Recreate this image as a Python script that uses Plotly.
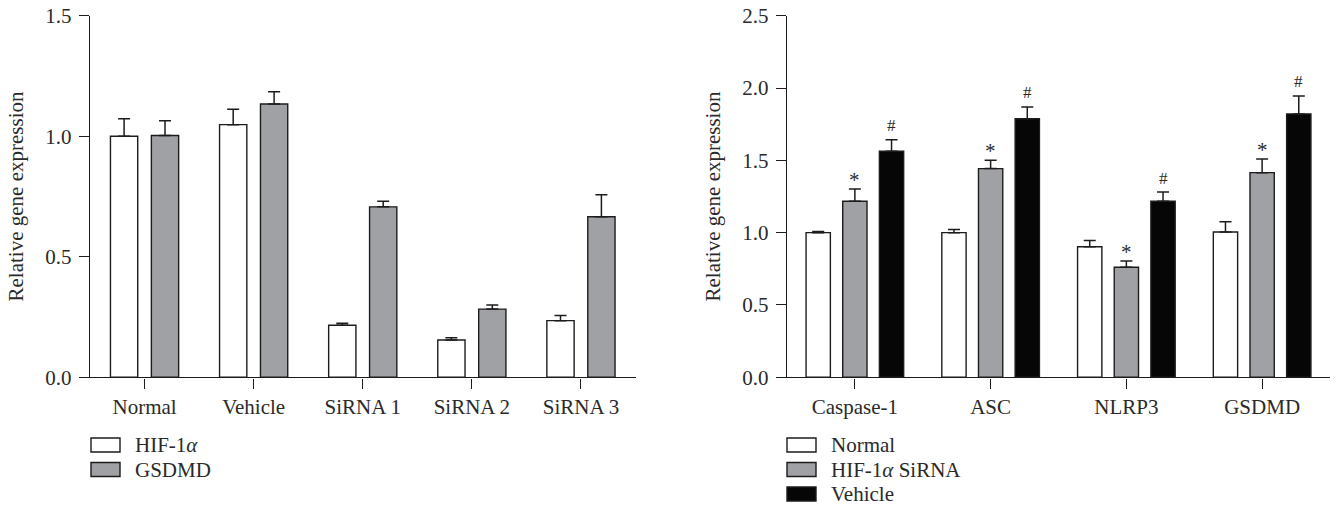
import plotly.graph_objects as go

W, H = 1342, 509

# ---------------- data ----------------
left_categories = ["Normal", "Vehicle", "SiRNA 1", "SiRNA 2", "SiRNA 3"]
left_series = ["HIF-1<i>α</i>", "GSDMD"]
left_hif = [1.000, 1.048, 0.216, 0.155, 0.235]
left_hif_err = [0.073, 0.064, 0.008, 0.009, 0.021]
left_gsdmd = [1.003, 1.134, 0.707, 0.283, 0.666]
left_gsdmd_err = [0.061, 0.051, 0.023, 0.017, 0.091]
left_yticks = [0.0, 0.5, 1.0, 1.5]

right_categories = ["Caspase-1", "ASC", "NLRP3", "GSDMD"]
right_series = ["Normal", "HIF-1<i>α</i> SiRNA", "Vehicle"]
right_normal = [1.000, 1.000, 0.903, 1.005]
right_normal_err = [0.008, 0.021, 0.042, 0.071]
right_sirna = [1.217, 1.443, 0.761, 1.415]
right_sirna_err = [0.085, 0.057, 0.043, 0.095]
right_vehicle = [1.563, 1.788, 1.217, 1.821]
right_vehicle_err = [0.080, 0.081, 0.064, 0.124]
sirna_marks = ["*", "*", "*", "*"]
vehicle_marks = ["#", "#", "#", "#"]
right_yticks = [0.0, 0.5, 1.0, 1.5, 2.0, 2.5]

# ---------------- style ----------------
FONT = "Liberation Serif"
INK = "#1c1c1c"
TXT = "#2a2a2a"
WHITE = "#ffffff"
GRAY = "#a0a1a5"
BLACK = "#060606"
FS = 21


def px(x, y):
    return x / W, 1 - y / H


fig = go.Figure()


def add_bars(xaxis, yaxis, cats, vals, errs, color, offset, width, name):
    fig.add_trace(go.Bar(
        x=cats, y=vals, name=name, xaxis=xaxis, yaxis=yaxis,
        offset=offset, width=width, showlegend=False,
        marker=dict(color=color, line=dict(color=INK, width=1.4)),
        error_y=dict(type="data", array=errs, arrayminus=[0] * len(errs),
                     symmetric=False, color=INK, thickness=1.5, width=6),
        hoverinfo="x+y+name",
    ))


# left chart
lw = 0.25
add_bars("x", "y", left_categories, left_hif, left_hif_err, WHITE, -0.3125, lw, left_series[0])
add_bars("x", "y", left_categories, left_gsdmd, left_gsdmd_err, GRAY, 0.0625, lw, left_series[1])

# right chart
rw = 0.179
rs = 0.27
add_bars("x2", "y2", right_categories, right_normal, right_normal_err, WHITE, -rs - rw / 2, rw, right_series[0])
add_bars("x2", "y2", right_categories, right_sirna, right_sirna_err, GRAY, -rw / 2, rw, right_series[1])
add_bars("x2", "y2", right_categories, right_vehicle, right_vehicle_err, BLACK, rs - rw / 2, rw, right_series[2])

annotations = []
for i, (v, e, m) in enumerate(zip(right_sirna, right_sirna_err, sirna_marks)):
    annotations.append(dict(x=i, y=v + e, xref="x2", yref="y2", text=m, showarrow=False,
                            yanchor="middle", yshift=9, font=dict(family=FONT, size=21, color=TXT)))
for i, (v, e, m) in enumerate(zip(right_vehicle, right_vehicle_err, vehicle_marks)):
    annotations.append(dict(x=i + rs, y=v + e, xref="x2", yref="y2", text=m, showarrow=False,
                            yanchor="middle", yshift=14, font=dict(family=FONT, size=17, color=TXT)))

# manual legends (wide swatches as in the reference)
shapes = []


def legend(x0, text_x, rows, names, colors):
    for (yc, name, col) in zip(rows, names, colors):
        a = px(x0, yc - 7)
        b = px(x0 + 29, yc + 7)
        shapes.append(dict(type="rect", xref="paper", yref="paper",
                           x0=a[0], x1=b[0], y0=b[1], y1=a[1],
                           fillcolor=col, line=dict(color=INK, width=1.4)))
        t = px(text_x, yc)
        annotations.append(dict(x=t[0], y=t[1], xref="paper", yref="paper", text=name,
                                showarrow=False, xanchor="left", yanchor="middle",
                                font=dict(family=FONT, size=FS, color=TXT)))


legend(91, 133, [445, 469.5], left_series, [WHITE, GRAY])
legend(787, 829, [445, 469.5, 494], right_series, [WHITE, GRAY, BLACK])

ydom = [1 - 377.3 / H, 1 - 15.7 / H]
axis_common = dict(showline=True, linecolor=INK, linewidth=1.4, ticks="outside",
                   ticklen=10, tickwidth=1.4, tickcolor=INK, showgrid=False, zeroline=False,
                   automargin=False,
                   tickfont=dict(family=FONT, size=FS, color=TXT))

fig.update_layout(
    template="none",
    width=W, height=H, margin=dict(l=0, r=0, t=0, b=0, pad=0),
    paper_bgcolor="white", plot_bgcolor="white",
    barmode="overlay", showlegend=False,
    font=dict(family=FONT, size=FS, color=TXT),
    xaxis=dict(domain=[90 / W, 635.5 / W], anchor="y", type="category",
               range=[-0.5, 4.5], **axis_common),
    yaxis=dict(domain=ydom, anchor="x", range=[0, 1.5], tickvals=left_yticks,
               tickformat=".1f", ticklabelstandoff=3,
               title=dict(text="Relative gene expression", standoff=15,
                          font=dict(family=FONT, size=FS, color=TXT)),
               **axis_common),
    xaxis2=dict(domain=[787 / W, 1330 / W], anchor="y2", type="category",
                range=[-0.5, 3.5], **axis_common),
    yaxis2=dict(domain=ydom, anchor="x2", range=[0, 2.5], tickvals=right_yticks,
                tickformat=".1f", ticklabelstandoff=3,
                title=dict(text="Relative gene expression", standoff=15,
                           font=dict(family=FONT, size=FS, color=TXT)),
                **axis_common),
    shapes=shapes, annotations=annotations,
)

fig.write_html("out.html", config={"displayModeBar": False},
               post_script="document.body.style.margin='0';document.body.style.overflow='hidden';")
